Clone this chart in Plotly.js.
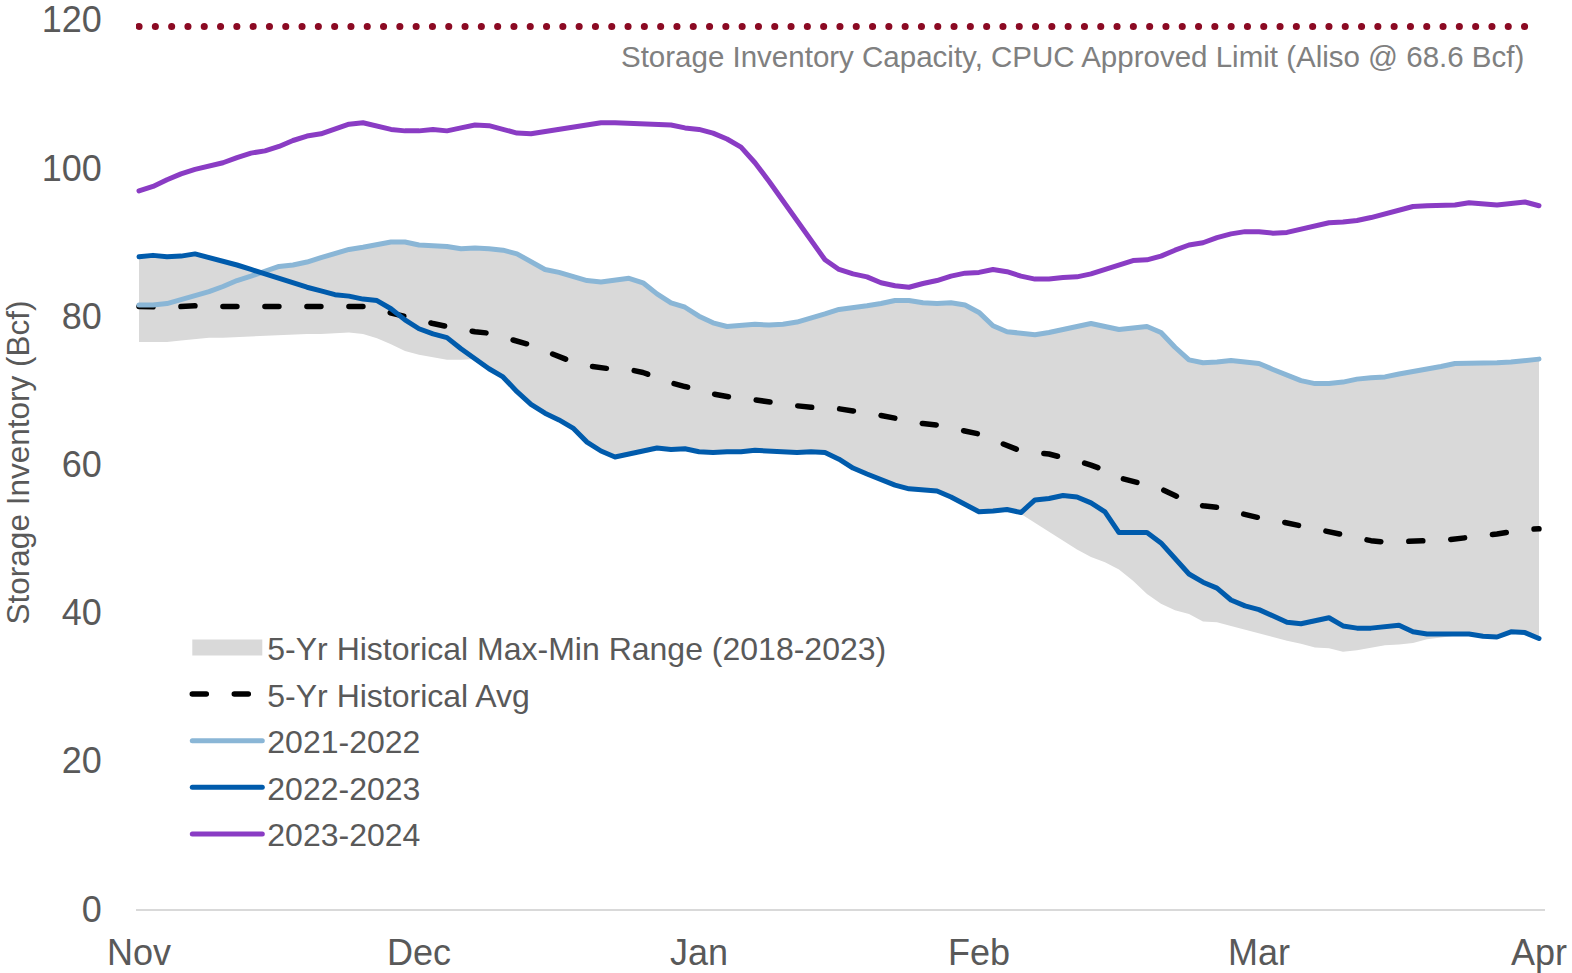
<!DOCTYPE html>
<html>
<head>
<meta charset="utf-8">
<script src="https://cdn.plot.ly/plotly-3.0.1.min.js"></script>
<style>body{margin:0;background:#fff}</style>
</head>
<body>
<div id="chart" style="width:1572px;height:973px"></div>
<script>
// Sampled every ~1.5 days (20 samples per month), Nov 1 -> Apr 1
const monthLabels = ['Nov', 'Dec', 'Jan', 'Feb', 'Mar', 'Apr'];
const monthTickIdx = [0, 20, 40, 60, 80, 100];
const yTicks = [0, 20, 40, 60, 80, 100, 120];
const capacityLimit = 119.1;
const capacityLabel = 'Storage Inventory Capacity, CPUC Approved Limit (Aliso @ 68.6 Bcf)';

const rangeMin = [76.5,76.5,76.5,76.7,76.9,77.1,77.1,77.2,77.3,77.3,
 77.5,77.6,77.6,77.6,77.7,77.8,77.6,77.0,76.2,75.3,
 74.8,74.4,74.1,74.1,74.2,72.9,71.8,69.8,68.1,66.9,
 66.0,64.9,63.0,61.8,61.0,61.4,61.8,62.2,62.0,62.1,
 61.7,61.6,61.7,61.7,61.9,61.8,61.6,61.6,61.7,61.6,
 60.7,59.5,58.7,57.9,57.2,56.7,56.6,56.4,55.6,54.6,
 53.6,53.7,53.9,53.3,52.1,50.9,49.7,48.5,47.5,46.8,
 45.8,44.3,42.5,41.2,40.3,39.8,38.8,38.7,38.2,37.7,
 37.1,36.7,36.2,35.8,35.3,35.2,34.7,34.9,35.3,35.6,
 35.7,35.9,36.4,36.6,36.9,37.1,36.8,36.7,37.4,37.3,
 36.5];

const rangeMax = [88.0,88.2,88.0,88.1,88.4,87.9,87.5,86.9,86.3,86.1,
 86.7,86.9,87.3,87.9,88.5,89.0,89.3,89.7,90.0,90.0,
 89.6,89.5,89.4,89.1,89.2,89.1,88.9,88.4,87.3,86.3,
 85.9,85.4,84.8,84.6,84.9,85.1,84.5,83.0,81.8,81.2,
 80.0,79.1,78.6,78.7,78.9,78.8,78.9,79.2,79.7,80.3,
 80.9,81.1,81.4,81.7,82.1,82.1,81.8,81.7,81.8,81.5,
 80.5,78.7,77.9,77.7,77.5,77.8,78.2,78.6,79.0,78.6,
 78.2,78.4,78.6,77.8,75.8,74.1,73.7,73.8,74.0,73.8,
 73.6,72.8,72.0,71.3,70.9,70.9,71.1,71.5,71.7,71.8,
 72.2,72.5,72.9,73.2,73.6,73.6,73.6,73.7,73.8,74.0,
 74.2];

const avg5yr = [81.3,81.2,81.2,81.3,81.4,81.3,81.3,81.3,81.3,81.3,
 81.2,81.2,81.2,81.2,81.2,81.3,81.3,80.9,80.4,79.9,
 79.4,79.0,78.6,78.2,77.9,77.7,77.2,76.7,76.1,75.3,
 74.6,73.8,73.3,73.0,72.8,72.8,72.4,71.7,71.0,70.5,
 70.1,69.5,69.1,68.8,68.7,68.4,68.2,67.9,67.7,67.6,
 67.5,67.2,67.0,66.6,66.2,65.8,65.5,65.3,64.9,64.5,
 64.1,63.3,62.6,61.8,61.6,61.4,60.9,60.5,59.9,59.2,
 58.2,57.7,57.2,56.7,55.8,54.9,54.4,54.2,53.7,53.2,
 52.8,52.5,52.1,51.6,51.3,50.9,50.5,50.1,49.7,49.5,
 49.6,49.7,49.7,49.7,49.9,50.1,50.3,50.6,50.9,51.2,
 51.3];

const s2021_22 = [81.5,81.5,81.7,82.2,82.8,83.3,84.0,84.8,85.4,86.1,
 86.7,86.9,87.3,87.9,88.5,89.0,89.3,89.7,90.0,90.0,
 89.6,89.5,89.4,89.1,89.2,89.1,88.9,88.4,87.3,86.3,
 85.9,85.4,84.8,84.6,84.9,85.1,84.5,83.0,81.8,81.2,
 80.0,79.1,78.6,78.7,78.9,78.8,78.9,79.2,79.7,80.3,
 80.9,81.1,81.4,81.7,82.1,82.1,81.8,81.7,81.8,81.5,
 80.5,78.7,77.9,77.7,77.5,77.8,78.2,78.6,79.0,78.6,
 78.2,78.4,78.6,77.8,75.8,74.1,73.7,73.8,74.0,73.8,
 73.6,72.8,72.0,71.3,70.9,70.9,71.1,71.5,71.7,71.8,
 72.2,72.5,72.9,73.2,73.6,73.6,73.6,73.7,73.8,74.0,
 74.2];

const s2022_23 = [88.0,88.2,88.0,88.1,88.4,87.9,87.5,86.9,86.3,85.7,
 85.0,84.4,83.9,83.4,82.9,82.7,82.3,82.1,81.0,79.5,
 78.3,77.6,77.1,75.6,74.2,72.9,71.8,69.8,68.1,66.9,
 66.0,64.9,63.0,61.8,61.0,61.4,61.8,62.2,62.0,62.1,
 61.7,61.6,61.7,61.7,61.9,61.8,61.6,61.6,61.7,61.6,
 60.7,59.5,58.7,57.9,57.2,56.7,56.6,56.4,55.6,54.6,
 53.6,53.7,53.9,53.5,55.2,55.4,55.8,55.6,54.8,53.6,
 50.8,50.8,50.8,49.4,47.2,45.2,44.1,43.3,41.7,40.9,
 40.4,39.6,38.7,38.5,38.9,39.3,38.2,37.9,37.9,38.1,
 38.3,37.4,37.1,37.1,37.1,37.1,36.8,36.7,37.4,37.3,
 36.5];

const s2023_24 = [96.9,97.5,98.4,99.2,99.8,100.2,100.7,101.4,102.0,102.3,
 102.9,103.7,104.3,104.6,105.2,105.9,106.1,105.7,105.2,105.0,
 105.0,105.2,105.0,105.4,105.8,105.7,105.2,104.7,104.6,104.9,
 105.2,105.4,105.8,106.1,106.1,106.0,105.9,105.9,105.8,105.4,
 105.2,104.7,103.9,102.8,100.7,98.2,95.6,93.0,90.4,87.6,
 86.3,85.7,85.3,84.5,84.1,83.9,84.4,84.8,85.4,85.8,
 85.9,86.3,86.0,85.4,85.0,85.0,85.2,85.3,85.7,86.3,
 87.0,87.5,87.6,88.1,88.9,89.6,89.9,90.6,91.1,91.4,
 91.4,91.2,91.3,91.7,92.2,92.6,92.7,92.9,93.3,93.8,
 94.4,94.8,94.9,95.0,95.0,95.3,95.2,95.0,95.2,95.4,
 94.9];

const FONT = 'Liberation Sans, Arial, Helvetica, sans-serif';
const TXT = '#595959';
const lastIdx = s2023_24.length - 1;

const traces = [
  {y: rangeMin, mode: 'lines', line: {width: 0, color: '#d9d9d9'}, showlegend: false, hoverinfo: 'skip', legendgroup: 'g0'},
  {y: rangeMax, mode: 'lines', fill: 'tonexty', fillcolor: '#d9d9d9', line: {width: 0, color: '#d9d9d9'},
   name: '5-Yr Historical Max-Min Range (2018-2023)', legendgroup: 'g0', hoverinfo: 'skip'},
  {y: avg5yr, mode: 'lines', line: {color: '#000000', width: 5.5, dash: '14px,28px'},
   name: '5-Yr Historical Avg', legendgroup: 'g1', hoverinfo: 'skip'},
  {y: s2021_22, mode: 'lines', line: {color: '#8ab6d6', width: 5}, name: '2021-2022', legendgroup: 'g2', hoverinfo: 'skip'},
  {y: s2022_23, mode: 'lines', line: {color: '#005bac', width: 5}, name: '2022-2023', legendgroup: 'g3', hoverinfo: 'skip'},
  {y: s2023_24, mode: 'lines', line: {color: '#8a3cc4', width: 5}, name: '2023-2024', legendgroup: 'g4', hoverinfo: 'skip'},
  {x: [0, lastIdx], y: [capacityLimit, capacityLimit], mode: 'lines',
   line: {color: '#8b0a23', width: 7, dash: '0.1px,16.2px'}, showlegend: false, hoverinfo: 'skip', name: 'cap'}
];

const layout = {
  width: 1572, height: 973,
  margin: {l: 136, r: 27, t: 16, b: 64},
  paper_bgcolor: '#ffffff', plot_bgcolor: '#ffffff',
  font: {family: FONT, color: TXT},
  showlegend: true,
  legend: {
    x: 0.0364, y: 0.3234, xanchor: 'left', yanchor: 'top',
    bgcolor: 'rgba(0,0,0,0)', borderwidth: 0,
    font: {family: FONT, size: 32, color: TXT},
    itemwidth: 70, traceorder: 'grouped', tracegroupgap: 2
  },
  xaxis: {
    range: [-0.214, 100.43],
    tickvals: monthTickIdx, ticktext: monthLabels,
    showgrid: false, zeroline: false,
    showline: true, linecolor: '#d9d9d9', linewidth: 2,
    ticks: 'outside', ticklen: 11, tickcolor: 'rgba(0,0,0,0)',
    tickfont: {family: FONT, size: 36, color: TXT},
    ticklabeloverflow: 'allow',
    fixedrange: true
  },
  yaxis: {
    range: [0, 120.5],
    tickvals: yTicks,
    showgrid: false, zeroline: false, showline: false,
    ticks: 'outside', ticklen: 26, tickcolor: 'rgba(0,0,0,0)',
    tickfont: {family: FONT, size: 36, color: TXT},
    ticklabeloverflow: 'allow',
    title: {text: 'Storage Inventory (Bcf)', font: {family: FONT, size: 31.5, color: TXT}, standoff: 8},
    fixedrange: true
  },
  annotations: [{
    x: 99.07, y: 115.1, xref: 'x', yref: 'y',
    text: capacityLabel, showarrow: false,
    xanchor: 'right', yanchor: 'middle',
    font: {family: FONT, size: 29.5, color: '#808080'}
  }]
};

function postStyle() {
  document.querySelectorAll('#chart path.js-line').forEach(function (p) {
    p.style.strokeLinecap = 'round';
    p.style.strokeLinejoin = 'round';
  });
  document.querySelectorAll('#chart .legend .legendfill path').forEach(function (p) {
    if (!p.getAttribute('d')) return;
    var bb = p.getBBox();
    if (bb.width > 0) {
      p.setAttribute('d', 'M' + bb.x + ',-8h' + bb.width + 'v16h-' + bb.width + 'z');
    }
  });
}

Plotly.newPlot('chart', traces, layout, {displayModeBar: false, responsive: false}).then(function (gd) {
  postStyle();
  gd.on('plotly_afterplot', postStyle);
});
</script>
</body>
</html>
